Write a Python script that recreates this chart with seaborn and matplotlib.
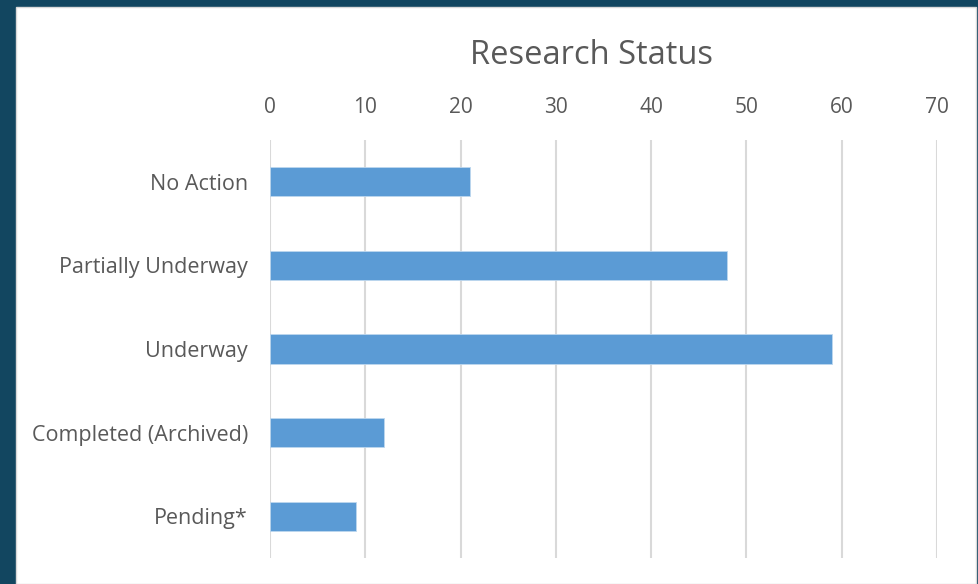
import matplotlib
matplotlib.use('Agg')
import matplotlib.pyplot as plt
import seaborn as sns
import pandas as pd
from matplotlib.patches import Rectangle

# Research status counts
statuses = ['No Action', 'Partially Underway', 'Underway', 'Completed (Archived)', 'Pending*']
counts = [21, 48, 59, 12, 9]
tick_values = [0, 10, 20, 30, 40, 50, 60, 70]

df = pd.DataFrame({'Status': statuses, 'Count': counts})

sns.set_style('white')
plt.rcParams['font.family'] = ['Open Sans', 'DejaVu Sans']

fig = plt.figure(figsize=(9.79, 5.84), dpi=100, facecolor='#124660')
# white slide panel behind the chart
fig.patches.append(Rectangle((16 / 979, 0), (976 - 16) / 979, (584 - 7) / 584,
                             transform=fig.transFigure, facecolor='white',
                             edgecolor='#d9d9d9', linewidth=1, zorder=-10))

ax = fig.add_axes([270 / 979, 1 - 558 / 584, (937 - 270) / 979, (558 - 140) / 584])
ax.set_facecolor('none')

sns.barplot(data=df, x='Count', y='Status', orient='h', color='#5b9bd5',
            width=0.35, edgecolor='#bdd7ee', linewidth=0.6, saturation=1, ax=ax)

ax.set_xlim(0, 70)
ax.set_ylim(4.5, -0.5)
ax.set_xticks(tick_values)
ax.xaxis.tick_top()
ax.tick_params(axis='y', length=0, labelsize=15.5, labelcolor='#595959', pad=16)
ax.tick_params(axis='x', length=0, labelsize=15, labelcolor='#595959', pad=16)
ax.set_xlabel('')
ax.set_ylabel('')
ax.grid(axis='x', color='#d9d9d9', linewidth=1.5)
ax.set_axisbelow(True)
for s in ax.spines.values():
    s.set_visible(False)

fig.text(591 / 979, 1 - 56 / 584, 'Research Status', ha='center', va='center',
         fontsize=23.5, color='#595959')

fig.savefig('out.png', dpi=100, facecolor=fig.get_facecolor())
